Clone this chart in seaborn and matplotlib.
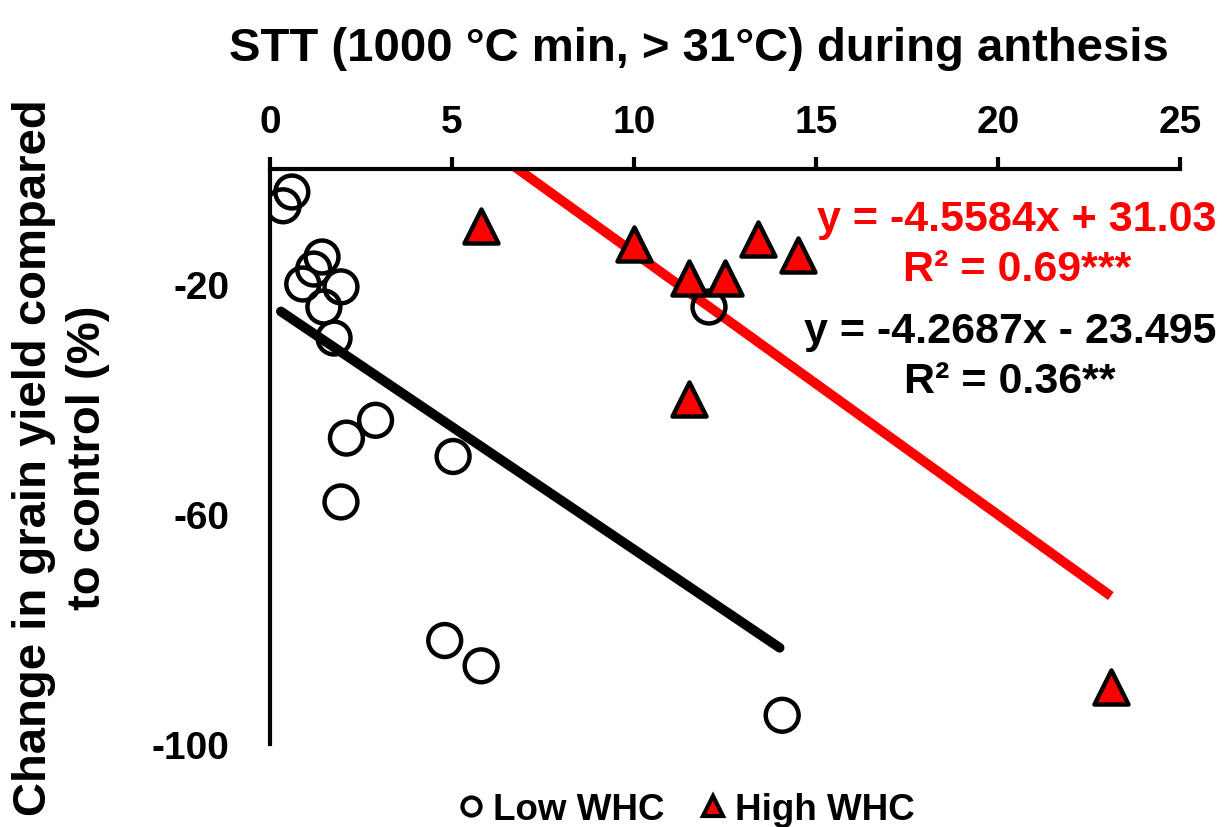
import matplotlib
matplotlib.use("Agg")
import matplotlib.pyplot as plt
import seaborn as sns
import numpy as np
import pandas as pd
from matplotlib.lines import Line2D

# ---- data ----
low_x = [0.36, 0.6, 1.43, 1.2, 0.9, 1.95, 1.48, 1.76, 2.9, 2.1, 5.03, 1.95, 4.8, 5.8, 12.06, 14.07]
low_y = [-6.4, -4.0, -15.3, -17.4, -20.0, -20.5, -24.0, -29.4, -43.7, -46.8, -50.0, -57.9, -82.0, -86.4, -24.0, -95.0]
high_x = [5.8, 10.0, 11.5, 12.5, 13.4, 14.5, 11.5, 23.1]
high_y = [-10.0, -13.0, -19.0, -19.0, -12.2, -15.0, -40.0, -90.0]

low_fit = (-4.2687, -23.495)
high_fit = (-4.5584, 31.03)
low_fit_range = [0.3, 14.0]
high_fit_range = [5.8, 23.1]

x_ticks = [0, 5, 10, 15, 20, 25]
y_ticks = [-20, -60, -100]

sns.set_theme(style="white")
plt.rcParams['font.family'] = ['Liberation Sans', 'DejaVu Sans']
plt.rcParams['font.weight'] = 'bold'
plt.rcParams['axes.unicode_minus'] = False
for k in ['text.color', 'axes.labelcolor', 'xtick.color', 'ytick.color', 'axes.edgecolor']:
    plt.rcParams[k] = 'black'

fig = plt.figure(figsize=(12.25, 8.28), dpi=100)
ax = fig.add_axes([0.2204, 0.1002, 0.7429, 0.6945])

# regression lines
lx = np.array(low_fit_range)
hx = np.array(high_fit_range)
sns.lineplot(x=lx, y=low_fit[0] * lx + low_fit[1], ax=ax, color='black', lw=7,
             solid_capstyle='round', zorder=2)
sns.lineplot(x=hx, y=high_fit[0] * hx + high_fit[1], ax=ax, color='#ff0000', lw=7,
             solid_capstyle='butt', zorder=2)

df_low = pd.DataFrame({'x': low_x, 'y': low_y})
df_high = pd.DataFrame({'x': high_x, 'y': high_y})
sns.scatterplot(data=df_low, x='x', y='y', ax=ax, marker='o', s=560,
                facecolor='none', edgecolor='black', linewidth=3.2, zorder=3)
sns.scatterplot(data=df_high, x='x', y='y', ax=ax, marker='^', s=600,
                color='#ff0000', edgecolor='black', linewidth=3.2, zorder=3)

ax.set_xlim(0, 25)
ax.set_ylim(-100, 0)
ax.set_xticks(x_ticks)
ax.set_yticks(y_ticks)
ax.xaxis.tick_top()
ax.xaxis.set_label_position('top')
for s in ['right', 'bottom']:
    ax.spines[s].set_visible(False)
for s in ['top', 'left']:
    ax.spines[s].set_linewidth(3)
    ax.spines[s].set_color('black')
ax.tick_params(axis='both', which='major', direction='out', length=9, width=3,
               color='black', labelsize=28)
ax.tick_params(axis='y', pad=20)
ax.tick_params(axis='x', pad=12)
for lab in ax.get_xticklabels() + ax.get_yticklabels():
    lab.set_fontweight('bold')

ax.set_xlabel('STT (1000 °C min, > 31°C) during anthesis', fontsize=34,
              fontweight='bold')
ax.xaxis.set_label_coords(0.4714, 1.19)
ax.set_ylabel('Change in grain yield compared\nto control (%)', fontsize=34,
              fontweight='bold', labelpad=30, linespacing=1.3)

# equations
fig.text(0.993, 0.704, 'y = -4.5584x + 31.03\nR² = 0.69***', color='#ff0000',
         fontsize=31, fontweight='bold', ha='right', va='center', multialignment='center',
         linespacing=1.3)
fig.text(0.993, 0.569, 'y = -4.2687x - 23.495\nR² = 0.36**', color='black',
         fontsize=31, fontweight='bold', ha='right', va='center', multialignment='center',
         linespacing=1.3)

handles = [
    Line2D([], [], marker='o', ls='none', markerfacecolor='none', markeredgecolor='black',
           markeredgewidth=3, markersize=13),
    Line2D([], [], marker='^', ls='none', markerfacecolor='#ff0000', markeredgecolor='black',
           markeredgewidth=3, markersize=14),
]
fig.legend(handles, ['Low WHC', 'High WHC'], loc='center', bbox_to_anchor=(0.558, 0.021),
           ncol=2, frameon=False, handletextpad=0.1, columnspacing=0.8,
           handlelength=1.0, prop={'weight': 'bold', 'size': 26.5})

fig.savefig('out.png', dpi=100)
